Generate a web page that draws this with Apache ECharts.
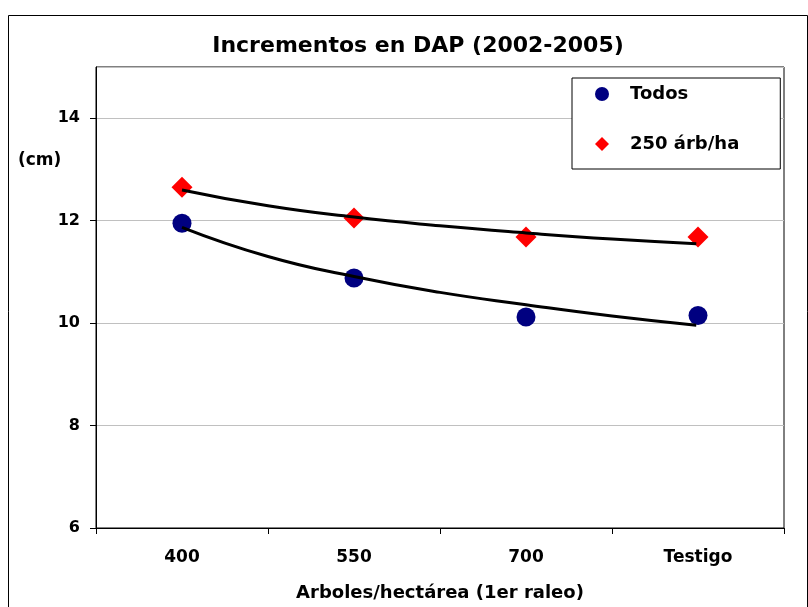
<!DOCTYPE html>
<html>
<head>
<meta charset="utf-8">
<script src="https://cdn.jsdelivr.net/npm/echarts@6/dist/echarts.min.js"></script>
<style>html,body{margin:0;padding:0;background:#fff}#c{width:808px;height:607px}</style>
</head>
<body>
<div id="c"></div>
<script>
var categories = ['400', '550', '700', 'Testigo'];
var todos = [11.95, 10.88, 10.12, 10.15];
var arb250 = [12.65, 12.05, 11.68, 11.68];
// trend lines at positions along the category axis (1 = first category)
var trendX = [1, 1.5, 2, 2.5, 3, 3.5, 3.99];
var trendTodos = [11.87, 11.30, 10.91, 10.60, 10.36, 10.14, 9.96];
var trend250 = [12.60, 12.29, 12.07, 11.90, 11.76, 11.64, 11.55];
var yTicks = [6, 8, 10, 12, 14];

var font = '"DejaVu Sans", "Liberation Sans", Arial, sans-serif';
function pairs(xs, ys) { return xs.map(function (x, i) { return [x, ys[i]]; }); }

var chart = echarts.init(document.getElementById('c'), null, {renderer: 'canvas'});
chart.setOption({
  backgroundColor: '#fff',
  animation: false,
  title: {
    text: 'Incrementos en DAP (2002-2005)',
    left: 413, top: 30, textAlign: 'center',
    textStyle: {fontFamily: font, fontWeight: 'bold', fontSize: 22, color: '#000'}
  },
  graphic: [
    {type: 'rect', left: 6, top: 13, z: -10, silent: true,
     shape: {width: 799, height: 640}, style: {fill: 'none', stroke: '#000', lineWidth: 1}},
    {type: 'text', left: 18, top: 152, z: 10,
     style: {text: '(cm)', font: 'bold 17px ' + font, fill: '#000'}}
  ],
  legend: {
    data: ['Todos', '250 árb/ha'],
    orient: 'vertical',
    left: 572, top: 78,
    padding: [7, 41, 16, 23],
    itemWidth: 14, itemHeight: 14, itemGap: 32,
    backgroundColor: '#fff', borderColor: '#000', borderWidth: 1,
    textStyle: {fontFamily: font, fontWeight: 'bold', fontSize: 18, color: '#000', padding: [0, 0, 0, 16]}
  },
  grid: {left: 96, top: 67, width: 688, height: 461, show: true, borderColor: '#000', borderWidth: 1, backgroundColor: '#fff'},
  xAxis: [
    {type: 'category', data: categories, boundaryGap: true,
     axisLine: {lineStyle: {color: '#000', width: 1}},
     axisTick: {show: true, length: 6, lineStyle: {color: '#000'}},
     axisLabel: {margin: 21, fontFamily: font, fontWeight: 'bold', fontSize: 17, color: '#000'},
     name: 'Arboles/hectárea (1er raleo)', nameLocation: 'middle', nameGap: 56,
     nameTextStyle: {fontFamily: font, fontWeight: 'bold', fontSize: 18, color: '#000', verticalAlign: 'top'}
    },
    {type: 'value', min: 0.5, max: 4.5, show: false}
  ],
  yAxis: {
    type: 'value', min: 6, max: 15, interval: 2,
    axisLine: {show: true, lineStyle: {color: '#000', width: 1}},
    axisTick: {show: true, length: 6, lineStyle: {color: '#000'}},
    axisLabel: {margin: 16, showMaxLabel: false, fontFamily: font, fontWeight: 'bold', fontSize: 16, color: '#000',
      formatter: function (v) { return yTicks.indexOf(v) >= 0 ? String(v) : ''; }},
    splitLine: {show: true, lineStyle: {color: '#c0c0c0', width: 1}}
  },
  series: [
    {name: 'Todos', type: 'scatter', xAxisIndex: 0, data: todos, symbol: 'circle', symbolSize: 19,
     itemStyle: {color: '#000080', opacity: 1}, z: 3},
    {name: '250 árb/ha', type: 'scatter', xAxisIndex: 0, data: arb250, symbol: 'diamond', symbolSize: 21,
     itemStyle: {color: '#ff0000', opacity: 1}, z: 3},
    {name: 'trendTodos', type: 'line', xAxisIndex: 1, data: pairs(trendX, trendTodos), smooth: true,
     showSymbol: false, symbol: 'none', lineStyle: {color: '#000', width: 3}, z: 5},
    {name: 'trend250', type: 'line', xAxisIndex: 1, data: pairs(trendX, trend250), smooth: true,
     showSymbol: false, symbol: 'none', lineStyle: {color: '#000', width: 3}, z: 5}
  ]
});
</script>
</body>
</html>
